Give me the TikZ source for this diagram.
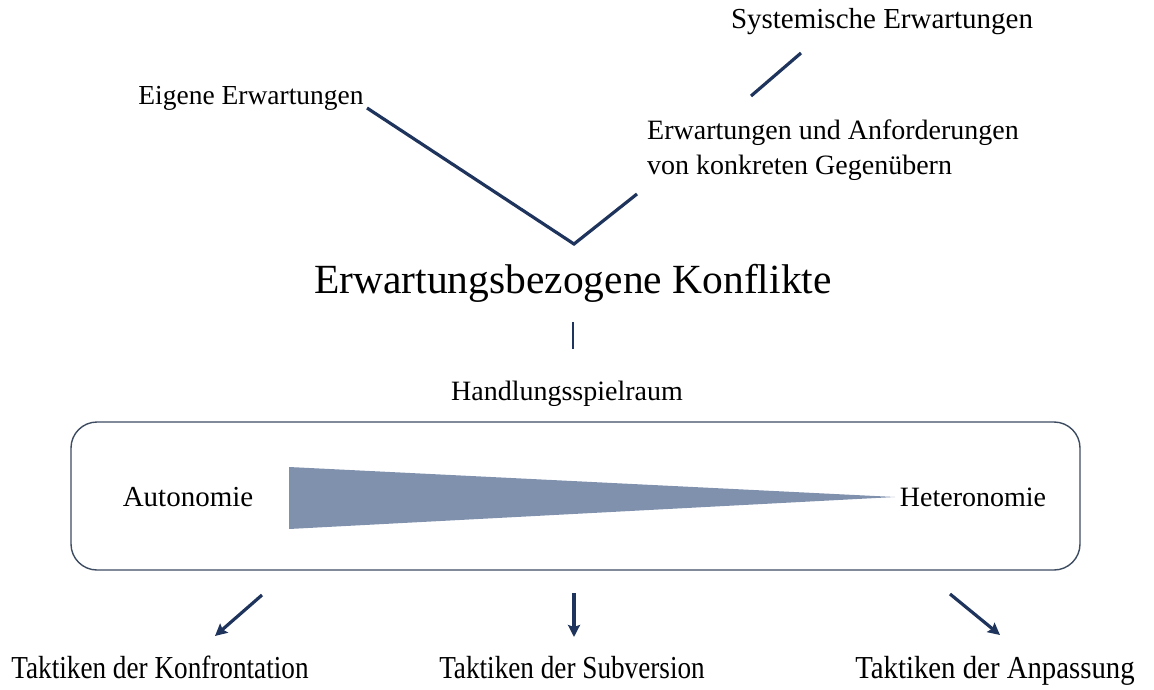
\documentclass[tikz,border=0pt]{standalone}
\usepackage{fontspec}
\setmainfont{Liberation Serif}
\usetikzlibrary{arrows.meta}
\definecolor{navy}{RGB}{31,52,92}
\definecolor{boxline}{RGB}{62,76,98}
\definecolor{wedge}{RGB}{127,145,172}
\tikzset{
  lbl/.style={inner sep=0pt, font=\fontsize{28}{34}\selectfont},
  big/.style={inner sep=0pt, font=\fontsize{41.5}{48}\selectfont},
  tac/.style={inner sep=0pt, anchor=base, font=\fontsize{32}{38}\selectfont},
  conn/.style={draw=navy, line width=3.2pt},
  arr/.style={draw=navy, line width=3.2pt, -{Stealth[length=12pt,width=12pt,inset=2pt]}},
}
\newcommand{\cond}[2]{\scalebox{#1}[1]{#2}}
\begin{document}
\begin{tikzpicture}[x=1pt,y=-1pt]
\useasboundingbox (0,0) rectangle (1154,690);
% texts
\node[lbl, font=\fontsize{27.5}{33}\selectfont] (eig) at (251,98) {Eigene Erwartungen};
\node[lbl, font=\fontsize{29}{35}\selectfont] (sys) at (882,22) {Systemische Erwartungen};
\node[lbl, anchor=west, align=left, font=\fontsize{28}{35}\selectfont] (konk) at (647,150) {Erwartungen und Anforderungen\\von konkreten Gegenübern};
\node[big] (konf) at (573,283) {Erwartungsbezogene Konflikte};
\node[lbl] (hand) at (567,394) {Handlungsspielraum};
% box
\draw[boxline, line width=1.4pt, rounded corners=26pt] (71,422) rectangle (1080,570);
\node[lbl, font=\fontsize{29}{35}\selectfont] (auto) at (188,497) {Autonomie};
\node[lbl, font=\fontsize{28}{34}\selectfont] (hete) at (973,497) {Heteronomie};
\fill[wedge] (289,467) -- (895,497) -- (289,529) -- cycle;
% V connector
\coordinate (e1) at (367,108);
\coordinate (vv) at (574,244);
\coordinate (k1) at (637,194);
\draw[conn] (e1) -- (vv) -- (k1);
\coordinate (s1) at (751,96);
\coordinate (s2) at (801,53);
\draw[conn] (s1) -- (s2);
\coordinate (c1) at (573,322);
\coordinate (c2) at (573,349);
\draw[conn, line width=2.6pt] (c1) -- (c2);
% bottom labels
\node[tac] (tk) at (160,678) {\cond{0.85}{Taktiken der Konfrontation}};
\node[tac] (ts) at (572,678) {\cond{0.85}{Taktiken der Subversion}};
\node[tac] (ta) at (995,678) {\cond{0.9}{Taktiken der Anpassung}};
\coordinate (a1) at (262,595);
\coordinate (a1e) at (215,636);
\coordinate (a2) at (574,593);
\coordinate (a2e) at (574,637);
\coordinate (a3) at (950,594);
\coordinate (a3e) at (1000,635);
\draw[arr] (a1) -- (a1e);
\draw[arr] (a2) -- (a2e);
\draw[arr] (a3) -- (a3e);
\end{tikzpicture}
\end{document}
